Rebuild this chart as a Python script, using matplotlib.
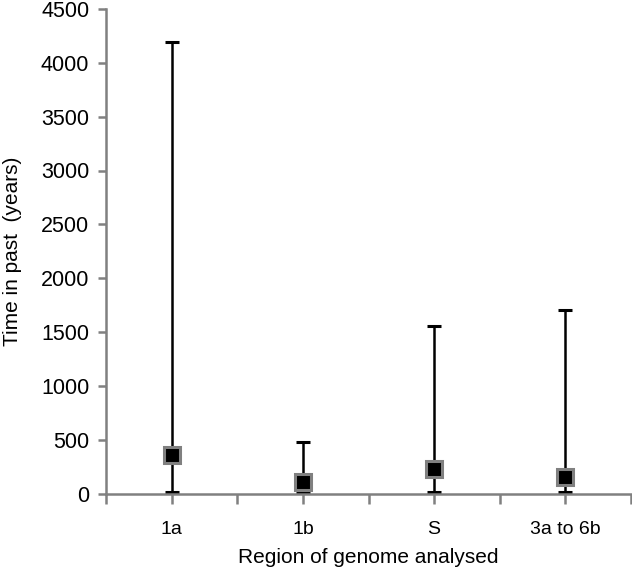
import matplotlib
matplotlib.use("Agg")
import matplotlib.pyplot as plt
import numpy as np

categories = ["1a", "1b", "S", "3a to 6b"]
estimate = [358, 110, 225, 156]
lower = [18, 15, 17, 15]
upper = [4193, 481, 1558, 1707]

plt.rcParams['font.family'] = ['Liberation Sans', 'DejaVu Sans']

fig = plt.figure(figsize=(6.32, 5.71), dpi=100)
ax = fig.add_axes([106/632, 1 - 493.5/571, 525/632, (493.5-9)/571])

x = np.arange(1, len(categories) + 1)
est = np.array(estimate)
yerr = np.vstack([est - np.array(lower), np.array(upper) - est])
ax.errorbar(x, est, yerr=yerr, fmt='none', ecolor='black', elinewidth=1.8,
            capsize=5, capthick=2.2, zorder=2)
ax.plot(x, est, linestyle='none', marker='s', markersize=11,
        markerfacecolor='black', markeredgecolor='#808080', markeredgewidth=2.2, zorder=3)

ax.set_xlim(0.5, len(categories) + 0.5)
ax.set_ylim(0, 4500)
ax.set_yticks(np.arange(0, 4501, 500))
ax.set_xticks(x)
ax.set_xticklabels(categories)
ax.set_xticks(np.arange(0.5, len(categories) + 1, 1.0), minor=True)

for s in ['top', 'right']:
    ax.spines[s].set_visible(False)
for s in ['left', 'bottom']:
    ax.spines[s].set_color('#808080')
    ax.spines[s].set_linewidth(1.8)

ax.tick_params(axis='y', which='major', direction='out', length=6, width=1.8,
               color='#808080', labelsize=15.5, pad=6, labelcolor='black')
ax.tick_params(axis='x', which='both', direction='out', length=7, width=1.8,
               color='#808080', labelsize=14, pad=13, labelcolor='black')

ax.set_xlabel("Region of genome analysed", fontsize=15, labelpad=7)
ax.set_ylabel("Time in past  (years)", fontsize=15, labelpad=14)

fig.savefig("out.png", dpi=100)
